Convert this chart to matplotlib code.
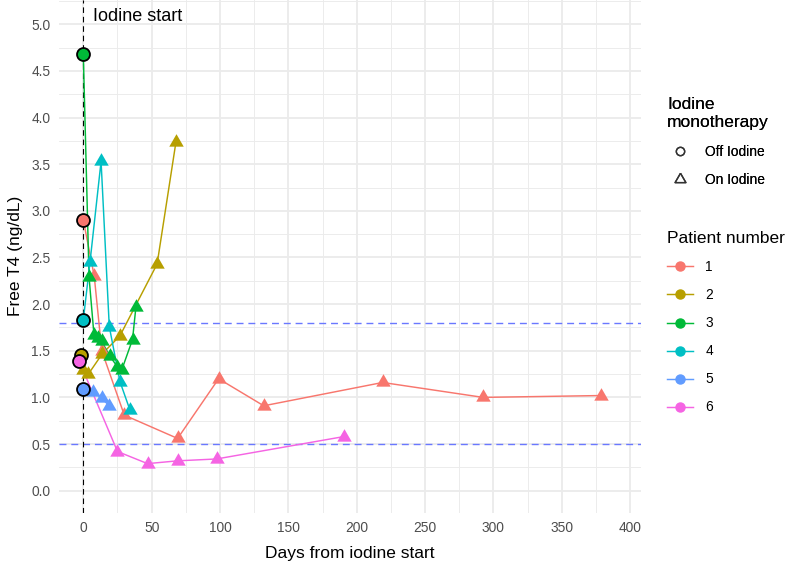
import matplotlib
matplotlib.use("Agg")
import matplotlib.pyplot as plt
from matplotlib.lines import Line2D
from matplotlib.ticker import MultipleLocator

plt.rcParams['font.family'] = ['Liberation Sans', 'DejaVu Sans']

# first point of every patient is the baseline (off iodine), the rest are on iodine
patients = ["1", "2", "3", "4", "5", "6"]
colors = ["#F8766D", "#B79F00", "#00BA38", "#00BFC4", "#619CFF", "#F564E3"]

days_1 = [0, 8, 13.5, 30, 69, 99, 132, 219, 292.5, 379]
ft4_1 = [2.90, 2.30, 1.50, 0.81, 0.56, 1.20, 0.91, 1.16, 1.00, 1.02]

days_2 = [-2, 0, 3.7, 14, 26.8, 54, 67.8]
ft4_2 = [1.45, 1.29, 1.25, 1.47, 1.66, 2.43, 3.74]

days_3 = [0, 4.2, 7.8, 10.7, 13.5, 19.5, 24.9, 28, 36, 38.5]
ft4_3 = [4.68, 2.29, 1.67, 1.64, 1.60, 1.44, 1.33, 1.29, 1.62, 1.97]

days_4 = [0, 4.9, 13, 19, 26.8, 34]
ft4_4 = [1.83, 2.45, 3.53, 1.76, 1.17, 0.87]

days_5 = [0, 7.3, 13.5, 19]
ft4_5 = [1.09, 1.06, 0.99, 0.91]

days_6 = [-3, 25, 47, 69, 97.5, 190.6]
ft4_6 = [1.39, 0.42, 0.29, 0.32, 0.34, 0.58]

all_days = [days_1, days_2, days_3, days_4, days_5, days_6]
all_ft4 = [ft4_1, ft4_2, ft4_3, ft4_4, ft4_5, ft4_6]

normal_range = [0.5, 1.8]

# equilateral triangle like R's pch 17
tri = [(0, 0.577), (-0.5, -0.289), (0.5, -0.289), (0, 0.577)]


def create_plot():
    fig = plt.figure(figsize=(7.9, 5.66), dpi=100)
    ax = fig.add_axes([58.7 / 790, 1 - 512.7 / 566, 582.3 / 790, 512.7 / 566])

    for d, v, c in zip(all_days, all_ft4, colors):
        ax.plot(d, v, color=c, lw=1.05, zorder=3)
    for d, v, c in zip(all_days, all_ft4, colors):
        ax.plot(d[1:], v[1:], ls="none", marker=tri, ms=12, mfc=c, mec=c,
                mew=0, zorder=4)
    for d, v, c in zip(all_days, all_ft4, colors):
        ax.plot(d[0], v[0], ls="none", marker="o", ms=9.3, mfc=c, mec="black",
                mew=1.3, zorder=5)

    for y in normal_range:
        ax.axhline(y, color="#6A78FF", ls=(0, (5, 3.5)), lw=1.0, zorder=2)
    ax.axvline(0, color="black", ls=(0, (5, 3.5)), lw=0.8, zorder=2)
    ax.annotate("Iodine start", xy=(0, 5.08), xytext=(7, 0),
                textcoords="offset points", va="center", fontsize=13,
                color="black")

    ax.set_xlim(-18, 408)
    ax.set_ylim(-0.236, 5.26)
    ax.xaxis.set_major_locator(MultipleLocator(50))
    ax.xaxis.set_minor_locator(MultipleLocator(25))
    ax.yaxis.set_major_locator(MultipleLocator(0.5))
    ax.yaxis.set_minor_locator(MultipleLocator(0.25))
    ax.yaxis.set_major_formatter(lambda v, p: f"{v:.1f}")
    ax.grid(which="major", color="#EBEBEB", lw=1.3)
    ax.grid(which="minor", color="#EBEBEB", lw=0.65)
    ax.set_axisbelow(True)
    for s in ax.spines.values():
        s.set_visible(False)
    ax.tick_params(which="both", length=0)
    ax.tick_params(axis="x", labelsize=9.9, labelcolor="#4D4D4D", pad=6)
    ax.tick_params(axis="y", labelsize=9.9, labelcolor="#4D4D4D", pad=6)

    ax.set_xlabel("Days from iodine start", fontsize=12.5, labelpad=8)
    ax.set_ylabel("Free T4 (ng/dL)", fontsize=12.5, labelpad=6)

    shape_handles = [
        Line2D([], [], ls="none", marker="o", ms=6, mfc="none", mec="#333333", mew=1.0),
        Line2D([], [], ls="none", marker=tri, ms=9, mfc="none", mec="#333333", mew=1.0),
    ]
    leg1 = fig.legend(shape_handles, ["Off Iodine", "On Iodine"],
                      title="Iodine\nmonotherapy", loc="upper left",
                      bbox_to_anchor=(659 / 790, 1 - 89 / 566), frameon=False,
                      fontsize=9.9, title_fontsize=12.5, alignment="left",
                      handlelength=1.89, handletextpad=0.87, labelspacing=1.02,
                      borderpad=0.6, borderaxespad=0)
    leg1.get_title().set_linespacing(1.27)

    patient_handles = [
        Line2D([], [], color=c, lw=1.05, marker="o", ms=6.5, mfc=c, mec=c)
        for c in colors
    ]
    fig.legend(patient_handles, patients, title="Patient number",
               loc="upper left", bbox_to_anchor=(659 / 790, 1 - 223 / 566),
               frameon=False, fontsize=9.9, title_fontsize=12.5,
               alignment="left", handlelength=1.89, handletextpad=0.87,
               labelspacing=1.02, borderpad=0.6, borderaxespad=0)
    fig.add_artist(leg1)

    fig.savefig("out.png", dpi=100)
    plt.close(fig)


def main():
    create_plot()


if __name__ == "__main__":
    main()
